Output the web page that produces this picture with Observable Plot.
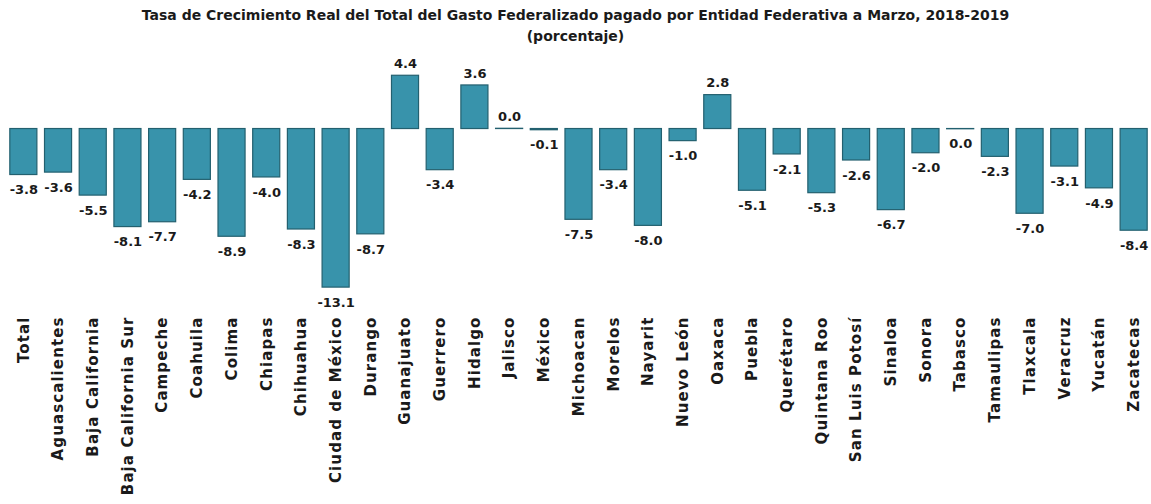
<!DOCTYPE html>
<html>
<head>
<meta charset="utf-8">
<script src="https://cdn.jsdelivr.net/npm/d3@7"></script>
<script src="https://cdn.jsdelivr.net/npm/@observablehq/plot@0.6"></script>
<style>
  body { margin: 0; background: #fff; }
  #title { width: 1151px; text-align: center; font-family: "DejaVu Sans", sans-serif; font-weight: bold; font-size: 14px; line-height: 21px; color: #1a1a1a; padding-top: 5px; height: 43px; box-sizing: content-box; }
  .xaxis text { letter-spacing: 1.1px; }
</style>
</head>
<body>
<div id="title">Tasa de Crecimiento Real del Total del Gasto Federalizado pagado por Entidad Federativa a Marzo, 2018-2019<br>(porcentaje)</div>
<div id="chart"></div>
<script>
const entidades = ["Total","Aguascalientes","Baja California","Baja California Sur","Campeche","Coahuila","Colima","Chiapas","Chihuahua","Ciudad de México","Durango","Guanajuato","Guerrero","Hidalgo","Jalisco","México","Michoacan","Morelos","Nayarit","Nuevo León","Oaxaca","Puebla","Querétaro","Quintana Roo","San Luis Potosí","Sinaloa","Sonora","Tabasco","Tamaulipas","Tlaxcala","Veracruz","Yucatán","Zacatecas"];
const tasas = [-3.8,-3.6,-5.5,-8.1,-7.7,-4.2,-8.9,-4.0,-8.3,-13.1,-8.7,4.4,-3.4,3.6,0.02,-0.1,-7.5,-3.4,-8.0,-1.0,2.8,-5.1,-2.1,-5.3,-2.6,-6.7,-2.0,-0.02,-2.3,-7.0,-3.1,-4.9,-8.4];

const data = entidades.map((e, i) => ({entidad: e, valor: tasas[i]}));
const fmt = v => (Math.round(v * 10) === 0 ? "0.0" : v.toFixed(1));
const pos = data.filter(d => d.valor >= 0);
const neg = data.filter(d => d.valor < 0);

const chart = Plot.plot({
  width: 1151,
  height: 456,
  marginLeft: 6,
  marginRight: 0,
  marginTop: 20,
  marginBottom: 206,
  style: {fontFamily: "'DejaVu Sans', sans-serif", background: "#fff"},
  x: {domain: entidades, paddingInner: 0.22, paddingOuter: 0.11, round: false, label: null},
  y: {domain: [-14, 5], axis: null},
  marks: [
    Plot.barY(data, {x: "entidad", y: "valor", fill: "#3893ab", stroke: "#23606f", strokeWidth: 1.2}),
    Plot.text(pos, {x: "entidad", y: "valor", text: d => fmt(d.valor), dy: -12, fontSize: 13, fontWeight: "bold", fill: "#1a1a1a"}),
    Plot.text(neg, {x: "entidad", y: "valor", text: d => fmt(d.valor), dy: 15, fontSize: 13, fontWeight: "bold", fill: "#1a1a1a"}),
    Plot.axisX({tickRotate: -90, tickSize: 0, tickPadding: 18, fontSize: 15, fontWeight: "bold", fill: "#1a1a1a", label: null, className: "xaxis"})
  ]
});
document.getElementById("chart").appendChild(chart);
</script>
</body>
</html>
